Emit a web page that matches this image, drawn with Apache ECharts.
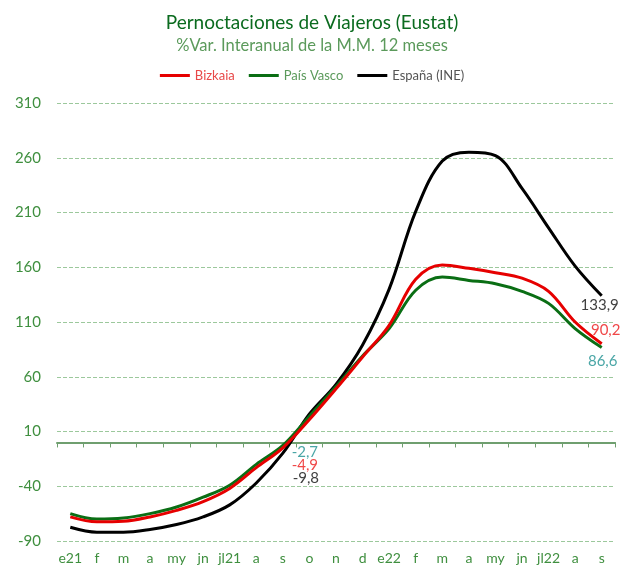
<!DOCTYPE html>
<html>
<head>
<meta charset="utf-8">
<script src="https://cdn.jsdelivr.net/npm/echarts@6/dist/echarts.min.js"></script>
<style>html,body{margin:0;padding:0;background:#fff;}#c{width:624px;height:570px;}</style>
</head>
<body>
<div id="c"></div>
<script>
var categories = ['e21','f','m','a','my','jn','jl21','a','s','o','n','d','e22','f','m','a','my','jn','jl22','a','s'];
var bizkaia = [-68, -72.5, -72, -68, -62, -54, -42, -23, -4.9, 21, 49, 78, 107, 149, 162, 159, 155, 150, 138, 110, 90.2];
var paisVasco = [-65, -70, -69, -65, -59, -50, -39, -20, -2.7, 24, 51, 79, 104, 139, 151, 148, 145, 138, 127, 104, 86.6];
var espana = [-77.5, -82, -82, -79.5, -75, -68, -57, -37, -9.8, 26, 53, 89, 140, 211, 257, 265, 262, 232, 196, 161, 133.9];
var labelledIdx = [8, 20];

var FONT = 'Lato';
function fmt(v){ return v.toFixed(1).replace('.', ','); }

function buildMarks(arr, color, offsets){
  return labelledIdx.map(function(i, k){
    return {coord: [i, arr[i]], value: arr[i],
      label: {show: true, position: [1 + offsets[k][0], 1 + offsets[k][1]],
        align: 'center', verticalAlign: 'middle', color: color, fontSize: 15, fontFamily: FONT,
        formatter: function(p){ return fmt(p.value); }}};
  });
}

function lineSeries(name, arr, color, labelColor, offsets, z){
  return {
    name: name, type: 'line', smooth: 0.35, showSymbol: false, symbol: 'none',
    lineStyle: {color: color, width: 3}, itemStyle: {color: color}, z: z,
    emphasis: {disabled: true},
    data: arr,
    markPoint: {
      z: 10, symbol: 'circle', symbolSize: 2, silent: true, animation: false,
      itemStyle: {color: 'rgba(0,0,0,0)'},
      data: buildMarks(arr, labelColor, offsets)
    }
  };
}

var chart = echarts.init(document.getElementById('c'));
chart.setOption({
  animation: false,
  backgroundColor: '#fff',
  title: {
    text: 'Pernoctaciones de Viajeros (Eustat)',
    subtext: '%Var. Interanual de la M.M. 12 meses',
    left: 'center', top: 8, itemGap: 5,
    textStyle: {color: '#0b6b1f', fontSize: 19, fontWeight: 'normal', fontFamily: FONT},
    subtextStyle: {color: '#5b9a5b', fontSize: 16.5, fontFamily: FONT}
  },
  legend: {
    top: 64, left: 'center', icon: 'rect', itemWidth: 30, itemHeight: 3, itemGap: 14,
    textStyle: {fontSize: 13, fontFamily: FONT},
    data: [
      {name: 'Bizkaia', textStyle: {color: '#e84848'}},
      {name: 'País Vasco', textStyle: {color: '#5b9a5b'}},
      {name: 'España (INE)', textStyle: {color: '#555'}}
    ]
  },
  grid: {left: 57, right: 9, top: 103, bottom: 29, containLabel: false},
  xAxis: [{
    type: 'category', data: categories, boundaryGap: true, position: 'bottom',
    axisLine: {onZero: true, lineStyle: {color: '#6f9f6f', width: 2}},
    axisTick: {show: true, length: 5, lineStyle: {color: '#6f9f6f', width: 1}},
    axisLabel: {show: false}
  }, {
    type: 'category', data: categories, boundaryGap: true, position: 'bottom',
    axisLine: {show: false, onZero: false}, axisTick: {show: false},
    axisLabel: {color: '#3f8f3f', fontSize: 14, fontFamily: FONT, margin: 10, interval: 0}
  }],
  yAxis: {
    type: 'value', min: -90, max: 310, interval: 50,
    axisLine: {show: false}, axisTick: {show: false},
    axisLabel: {color: '#3f8f3f', fontSize: 15, fontFamily: FONT, margin: 16},
    splitLine: {lineStyle: {color: '#9cc89c', type: [4, 2], width: 1}}
  },
  series: [
    lineSeries('Bizkaia', bizkaia, '#e60000', '#f04848', [[22, 17], [4, -14]], 3),
    lineSeries('País Vasco', paisVasco, '#0a6e14', '#4aa6a6', [[22, 7], [1, 14]], 2),
    lineSeries('España (INE)', espana, '#000', '#404040', [[23, 25], [-2, 9]], 1)
  ]
});
</script>
</body>
</html>
